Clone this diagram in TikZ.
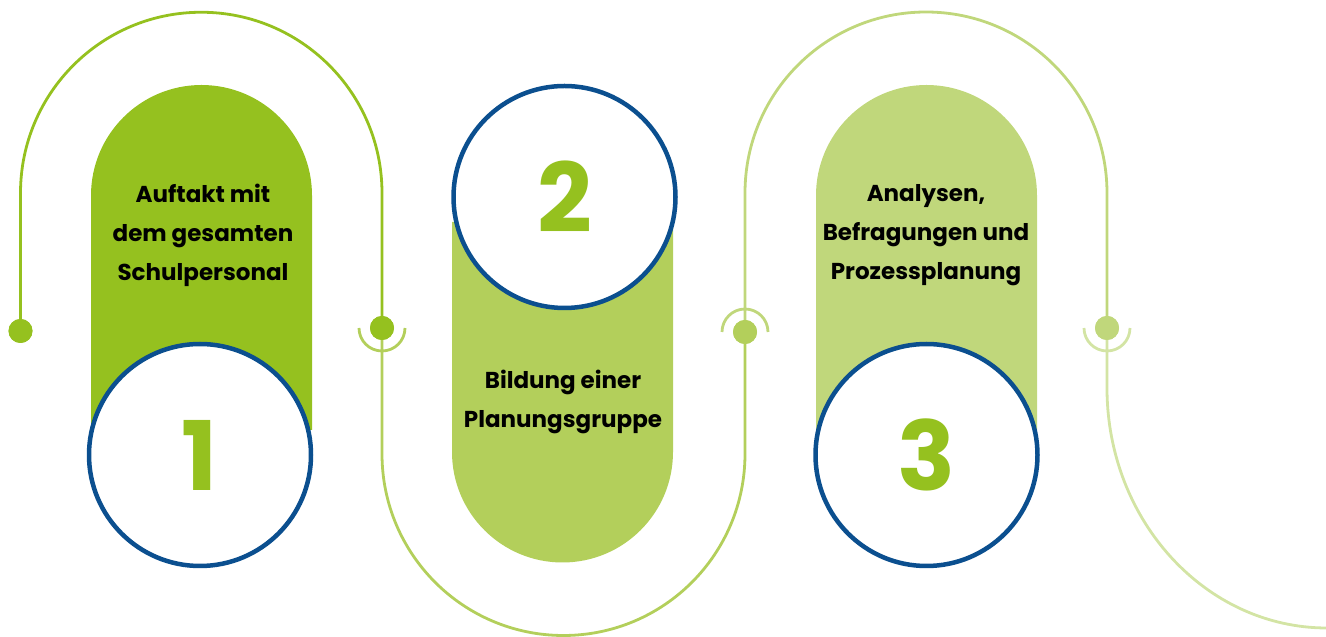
\documentclass[tikz,border=0pt]{standalone}
\usepackage{fontspec}
\newfontfamily\lbl{Poppins}
\definecolor{gA}{HTML}{95C11F}
\definecolor{gB}{HTML}{B3CF5B}
\definecolor{gC}{HTML}{C0D77B}
\definecolor{gD}{HTML}{D3E4A4}
\definecolor{ringblue}{HTML}{0B4F8F}
\tikzset{
  x=1pt, y=1pt,
  track/.style={line width=2.8pt},
  ring/.style={line width=2.8pt},
  dot/.style={circle, inner sep=0pt, minimum size=24pt},
  stepcircle/.style={circle, draw=ringblue, line width=4.5pt, fill=white, minimum size=222pt, inner sep=0pt,
    font=\lbl\bfseries\fontsize{96}{96}\selectfont, text=gA},
  steptext/.style={align=center, font=\lbl\bfseries\fontsize{23}{39}\selectfont, text=black},
}
\begin{document}
\begin{tikzpicture}
\useasboundingbox (0,0) rectangle (1326,637);

% junction dots on the track
\node[dot, fill=gA] (d0) at (20.5,306) {};
\node[dot, fill=gA] (d1) at (382,309) {};
\node[dot, fill=gB] (d2) at (745,305) {};
\node[dot, fill=gC] (d3) at (1107,309) {};
\coordinate (trackend) at (1327,9);

% winding track
\draw[track, draw=gA] (d0.center) -- (20.5,444) arc[start angle=180, end angle=0, radius=180.75] -- (d1.center);
\draw[track, draw=gB] (d1.center) -- (382,183) arc[start angle=180, end angle=360, radius=181.5] -- (d2.center);
\draw[track, draw=gC] (d2.center) -- (745,444) arc[start angle=180, end angle=0, radius=181] -- (d3.center);
\draw[track, draw=gD] (d3.center) -- (1107,249) arc[start angle=180, end angle=270, x radius=220, y radius=240] -- (trackend);

% half rings around the junctions
\draw[ring, draw=gB] ([xshift=-23pt]d1.center) arc[start angle=180, end angle=360, radius=23];
\draw[ring, draw=gC] ([xshift=-23pt]d2.center) arc[start angle=180, end angle=0, radius=23];
\draw[ring, draw=gD] ([xshift=-23pt]d3.center) arc[start angle=180, end angle=360, radius=23];

% redraw dots on top
\fill[gA] (d0) circle[radius=12];
\fill[gA] (d1) circle[radius=12];
\fill[gB] (d2) circle[radius=12];
\fill[gC] (d3) circle[radius=12];

% pillars
\fill[gA] (91,207) -- (91,441.5) arc[start angle=180, end angle=0, radius=110.5] -- (312,207) -- cycle;
\fill[gB] (452,415) -- (452,185) arc[start angle=180, end angle=360, radius=110.5] -- (673,415) -- cycle;
\fill[gC] (816,207) -- (816,441.5) arc[start angle=180, end angle=0, radius=110.5] -- (1037,207) -- cycle;

% numbered circles
\node[stepcircle] (c1) at (200,182) {1};
\node[stepcircle] (c2) at (564.5,440) {2};
\node[stepcircle] (c3) at (926.5,182) {3};

% step labels
\node[steptext] (t1) at (203,402) {Auftakt mit\\dem gesamten\\Schulpersonal};
\node[steptext] (t2) at (563,235) {Bildung einer\\Planungsgruppe};
\node[steptext] (t3) at (926,401.5) {Analysen,\\Befragungen und\\Prozessplanung};
\end{tikzpicture}
\end{document}
